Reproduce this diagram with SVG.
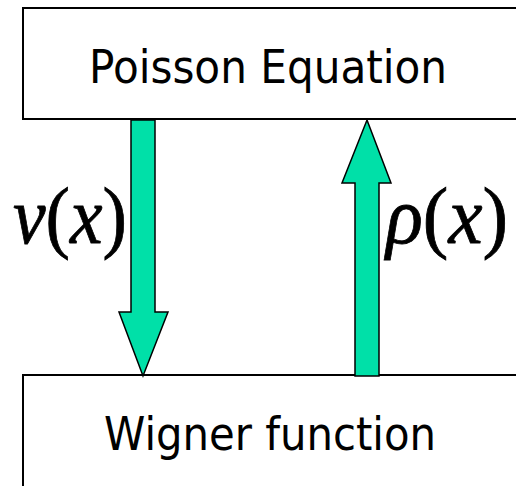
<svg xmlns="http://www.w3.org/2000/svg" width="516" height="486" viewBox="0 0 516 486">
<style>
.box{fill:#fff;stroke:#000;stroke-width:2}
.lbl{font-family:"DejaVu Sans","Liberation Sans",sans-serif;font-size:46px;fill:#000;text-anchor:middle}
.arr{fill:#00E0A8;stroke:#000;stroke-width:1.5;stroke-linejoin:miter}
</style>
<rect width="516" height="486" fill="#fff"/>
<g id="poisson">
<rect class="box" x="23" y="8" width="520" height="111"/>
<text class="lbl" x="268" y="83" textLength="358" lengthAdjust="spacingAndGlyphs">Poisson Equation</text>
</g>
<g id="wigner">
<rect class="box" x="23" y="375" width="520" height="130"/>
<text class="lbl" x="270" y="450" textLength="332" lengthAdjust="spacingAndGlyphs">Wigner function</text>
</g>
<g id="connectors">
<polygon class="arr" points="131,120 155,120 155,312 168,312 143,376 119,312 131,312"/>
<polygon class="arr" points="367,120 391,183 379,183 379,376 355,376 355,183 342,183"/>
</g>
<g id="labels" font-family="'Liberation Serif', 'DejaVu Serif', serif" font-size="80" fill="#000" stroke="#000" stroke-width="0.8">
<text x="13" y="243" textLength="114" lengthAdjust="spacingAndGlyphs"><tspan font-style="italic">ν</tspan><tspan>(</tspan><tspan font-style="italic">x</tspan><tspan>)</tspan></text>
<text x="386" y="243" textLength="122" lengthAdjust="spacingAndGlyphs"><tspan font-style="italic">ρ</tspan><tspan>(</tspan><tspan font-style="italic">x</tspan><tspan>)</tspan></text>
</g>
</svg>
